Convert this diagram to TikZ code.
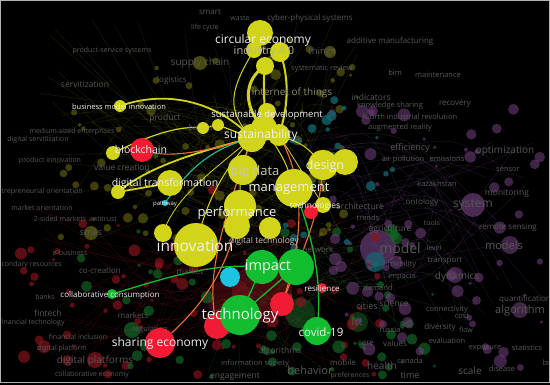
\documentclass[tikz,border=0pt]{standalone}
\usepackage{fontspec}
\setmainfont{Open Sans}
\definecolor{vy}{RGB}{210,212,26}
\definecolor{vg}{RGB}{18,190,48}
\definecolor{vr}{RGB}{240,28,52}
\definecolor{vc}{RGB}{28,196,226}
\definecolor{vo}{RGB}{240,112,50}
\definecolor{vt}{RGB}{24,190,160}
\definecolor{fl}{RGB}{88,88,88}
\definecolor{dy}{RGB}{105,105,20}
\definecolor{dr}{RGB}{140,20,30}
\definecolor{dg}{RGB}{20,105,40}
\definecolor{dp}{RGB}{105,60,118}
\definecolor{dt}{RGB}{20,105,115}
\definecolor{wl}{RGB}{240,240,240}
\pgfdeclarelayer{bgl}
\pgfdeclarelayer{lnk}
\pgfsetlayers{bgl,lnk,main}
\begin{document}
\begin{tikzpicture}[x=1pt,y=-1pt,
  every node/.style={inner sep=0pt,outer sep=0pt},
  dot/.style={circle,minimum size=#1,inner sep=0pt,draw=none},
  lab/.style={text=wl,font=\fontsize{#1}{#1}\selectfont},
  flab/.style={text=fl,font=\fontsize{#1}{#1}\selectfont},
  ylink/.style={draw=vy,line width=#1},
  olink/.style={draw=vo,line width=1.1},
  glink/.style={draw=vg,line width=1.3},
]
\begin{pgfonlayer}{bgl}
\fill[black] (0,0) rectangle (550,385);
\pgfmathsetseed{4242}
\foreach \i in {1,...,90}{
  \pgfmathsetmacro\ax{200+rnd*110}\pgfmathsetmacro\ay{120+rnd*120}
  \pgfmathsetmacro\bx{40+rnd*320}\pgfmathsetmacro\by{20+rnd*220}
  \draw[dy,opacity=0.3,line width=0.4] (\ax,\ay) .. controls (\ax*0.5+\bx*0.5,\ay-30) .. (\bx,\by);
}
\foreach \i in {1,...,90}{
  \pgfmathsetmacro\ax{200+rnd*120}\pgfmathsetmacro\ay{220+rnd*110}
  \pgfmathsetmacro\bx{20+rnd*360}\pgfmathsetmacro\by{200+rnd*185}
  \draw[dr,opacity=0.3,line width=0.4] (\ax,\ay) .. controls (\ax*0.5+\bx*0.5,\ay+20) .. (\bx,\by);
}
\foreach \i in {1,...,50}{
  \pgfmathsetmacro\ax{220+rnd*120}\pgfmathsetmacro\ay{200+rnd*120}
  \pgfmathsetmacro\bx{200+rnd*250}\pgfmathsetmacro\by{220+rnd*160}
  \draw[dg,opacity=0.35,line width=0.4] (\ax,\ay) -- (\bx,\by);
}
\foreach \i in {1,...,50}{
  \pgfmathsetmacro\ax{300+rnd*120}\pgfmathsetmacro\ay{140+rnd*150}
  \pgfmathsetmacro\bx{360+rnd*190}\pgfmathsetmacro\by{140+rnd*200}
  \draw[dp,opacity=0.35,line width=0.4] (\ax,\ay) .. controls (\ax*0.5+\bx*0.5,\ay-15) .. (\bx,\by);
}
\fill[dr,opacity=0.45] (262,292) circle (30pt);
\fill[dr,opacity=0.35] (230,300) circle (22pt);
\fill[dg,opacity=0.5] (300,313) circle (15pt);
\fill[dg,opacity=0.5] (358,322) circle (10pt);
\fill[dp,opacity=0.7] (378,248) circle (18pt);
\fill[dp,opacity=0.7] (473,205) circle (12pt);
\fill[dp,opacity=0.6] (510,245) circle (9pt);
\fill[dp,opacity=0.6] (455,275) circle (8pt);
\fill[dp,opacity=0.6] (520,310) circle (8pt);
\fill[dt,opacity=0.7] (375,262) circle (10pt);
\fill[dy,opacity=0.7] (200,63) circle (7pt);
\fill[dy,opacity=0.7] (330,52) circle (6pt);
\fill[dy,opacity=0.7] (91,233) circle (7pt);
\fill[dr,opacity=0.7] (95,360) circle (8pt);
\fill[dg,opacity=0.7] (132,330) circle (8pt);
\fill[dr,opacity=0.8] (175,180) circle (5pt);
\fill[dr,opacity=0.8] (213,190) circle (5pt);
\foreach \i in {1,...,60}{
  \pgfmathsetmacro\px{120+rnd*240}\pgfmathsetmacro\py{40+rnd*200}\pgfmathsetmacro\pr{1.5+rnd*4}
  \fill[dy,opacity=0.6] (\px,\py) circle (\pr pt);
}
\foreach \i in {1,...,15}{
  \pgfmathsetmacro\px{60+rnd*100}\pgfmathsetmacro\py{110+rnd*130}\pgfmathsetmacro\pr{1.5+rnd*3}
  \fill[dy,opacity=0.6] (\px,\py) circle (\pr pt);
}
\foreach \i in {1,...,70}{
  \pgfmathsetmacro\px{20+rnd*360}\pgfmathsetmacro\py{220+rnd*160}\pgfmathsetmacro\pr{1.5+rnd*5}
  \fill[dr,opacity=0.65] (\px,\py) circle (\pr pt);
}
\foreach \i in {1,...,60}{
  \pgfmathsetmacro\px{80+rnd*360}\pgfmathsetmacro\py{230+rnd*150}\pgfmathsetmacro\pr{1.5+rnd*5}
  \fill[dg,opacity=0.65] (\px,\py) circle (\pr pt);
}
\foreach \i in {1,...,70}{
  \pgfmathsetmacro\px{330+rnd*215}\pgfmathsetmacro\py{100+rnd*270}\pgfmathsetmacro\pr{1.5+rnd*5}
  \fill[dp,opacity=0.6] (\px,\py) circle (\pr pt);
}
\foreach \i in {1,...,25}{
  \pgfmathsetmacro\px{280+rnd*120}\pgfmathsetmacro\py{90+rnd*180}\pgfmathsetmacro\pr{1.5+rnd*4}
  \fill[dt,opacity=0.75] (\px,\py) circle (\pr pt);
}
\end{pgfonlayer}
\useasboundingbox (0,0) rectangle (550,385);
% background labels
\foreach \x/\y/\t/\s [count=\k] in {310/18/cyber-physical systems/8, 210/12/smart/8, 240/18/waste/7, 205/28/life cycle/7, 112/51/product-service systems/7, 200/63/supply chain/10, 172/80/logistics/8, 85/84/servitization/8.5, 390/41/additive manufacturing/8, 322/52/things/9.5, 322/69/systematic review/7.5, 395/73/bim/7.5, 438/75/maintenance/7.5, 371/97/indicators/8.5, 390/106/knowledge sharing/7.5, 455/104/recovery/8, 410/117/fourth industrial revolution/7.5, 400/128/augmented reality/7.5, 165/118/product/8.5, 203/128/barriers/8, 72/132/medium-sized enterprises/7, 38/140/digital servitization/7, 50/161/product innovation/7, 122/167/value creation/8.5, 38/192/entrepreneurial orientation/7, 42/208/market orientation/7, 60/219/2-sided markets/7, 103/219/antitrust/7, 91/233/smes/9, 70/253/e-business/7, 28/265/secondary resources/7, 100/271/co-creation/8, 45/297/banks/7, 48/313/fintech/8.5, 32/323/financial technology/7, 78/337/financial inclusion/7, 62/349/digital platform/7, 95/361/digital platforms/10, 92/375/collaborative economy/7, 133/316/markets/8, 150/330/regulation/7.5, 410/148/efficiency/9, 403/160/air pollution/7.5, 447/159/emissions/7.5, 505/151/optimization/10, 508/169/sensor/7.5, 437/184/kazakhstan/7.5, 507/193/monitoring/8.5, 422/202/ontology/8, 360/206/architecture/8.5, 473/205/system/12, 368/218/trends/7.5, 432/223/tools/7, 390/229/agriculture/8.5, 508/228/remote sensing/8, 400/248/model/14, 504/245/models/11, 434/248/level/7, 318/250/network/8, 445/261/transport/8, 402/265/mobility/7.5, 457/277/dynamics/10, 402/277/impacts/7.5, 378/288/demand/7.5, 525/299/quantification/8, 520/311/algorithm/11, 394/303/science/8.5, 367/306/cities/9, 447/310/connectivity/7.5, 462/316/cost/7.5, 357/322/ict/10, 440/327/diversity/8, 466/330/flow/7, 390/330/russia/7.5, 366/343/care/8, 395/344/values/8, 447/341/evaluation/7.5, 485/348/exposure/7.5, 527/348/statistics/7.5, 280/351/algorithms/8.5, 255/364/information society/7.5, 310/370/behavior/11, 235/377/engagement/8.5, 343/363/mobile/8, 382/366/health/10, 410/361/canada/7.5, 410/375/time/9, 470/371/scale/10, 502/369/disease/7.5, 350/376/preferences/7, 553/363/broad/7.5, 190/272/market/8}
  { \node[flab=\s] (bg\k) at (\x,\y) {\t}; }
\node[text={rgb,255:red,140;green,140;blue,110},font=\fontsize{10}{10}\selectfont] (iot) at (292,93) {internet of things};
% main nodes
\node[dot=12pt,fill=vy] (bmi) at (120,106) {};
\node[dot=14pt,fill=vy] (bc2) at (113,153) {};
\node[dot=14pt,fill=vy] (dt2) at (118,192) {};
\node[dot=12pt,fill=vy] (su4) at (218,125) {};
\node[dot=12pt,fill=vy] (su5) at (203,128) {};
\node[dot=16pt,fill=vy] (ce4) at (254,50) {};
\node[dot=26pt,fill=vy] (ce1) at (260,33) {};
\node[dot=20pt,fill=vy] (ce2) at (280,52) {};
\node[dot=18pt,fill=vy] (ce3) at (265,66) {};
\node[dot=18pt,fill=vy] (sd) at (267,112) {};
\node[dot=28pt,fill=vy] (su1) at (252,138) {};
\node[dot=26pt,fill=vy] (su2) at (264,128) {};
\node[dot=22pt,fill=vy] (su3) at (279,135) {};
\node[dot=30pt,fill=vy] (de1) at (323,165) {};
\node[dot=26pt,fill=vy] (de2) at (345,162) {};
\node[dot=30pt,fill=vy] (bd) at (243,170) {};
\node[dot=38pt,fill=vy] (ma) at (294,188) {};
\node[dot=16pt,fill=vy] (te) at (323,205) {};
\node[dot=14pt,fill=vr] (rr1) at (311,212) {};
\node[dot=32pt,fill=vy] (pe1) at (240,206) {};
\node[dot=26pt,fill=vy] (pe2) at (237,226) {};
\node[dot=22pt,fill=vy] (ye1) at (270,228) {};
\node[dot=44pt,fill=vy] (in) at (196,245) {};
\node[dot=18pt,fill=vy] (ye2) at (163,233) {};
\node[dot=34pt,fill=vg] (im1) at (262,267) {};
\node[dot=36pt,fill=vg] (im2) at (296,267) {};
\node[dot=20pt,fill=vc] (cy) at (230,277) {};
\node[dot=10pt,fill=vr] (res) at (322,288) {};
\node[dot=26pt,fill=vr] (rt1) at (217,326) {};
\node[dot=24pt,fill=vr] (rt2) at (282,304) {};
\node[dot=40pt,fill=vg] (tec) at (240,315) {};
\node[dot=28pt,fill=vg] (cov) at (317,331) {};
\node[dot=30pt,fill=vr] (se) at (160,343) {};
\node[dot=10pt,fill=vg] (cc) at (112,294) {};
\node[dot=26pt,fill=vy] (dt1) at (170,183) {};
\node[dot=24pt,fill=vr] (bc) at (142,150) {};
\node[dot=6pt,fill=vc] (pw) at (165,203) {};
% main links (under the nodes)
\begin{pgfonlayer}{lnk}
\draw[ylink=3] (ce3.center) .. controls (243,80) and (243,108) .. (su2.center);
\draw[ylink=2] (ce3.center) .. controls (262,88) and (266,104) .. (su2.center);
\draw[ylink=2] (ce2.center) .. controls (290,80) and (288,108) .. (su3.center);
\draw[ylink=1] (ce4.center) .. controls (230,90) and (225,110) .. (su1.center);
\draw[ylink=1.8] (bmi.center) .. controls (165,90) and (215,100) .. (su1.center);
\draw[ylink=1.2] (bc2.center) .. controls (150,135) and (180,125) .. (su5.center);
\draw[ylink=1.2] (su5.center) -- (su4.center) -- (su1.center);
\draw[ylink=1.8] (dt2.center) -- (dt1.center);
\draw[ylink=1.8] (dt2.center) .. controls (150,165) and (205,150) .. (su1.center);
\draw[olink] (bc.center) .. controls (170,160) and (210,150) .. (su1.center);
\draw[vt,line width=1.1] (pw.center) .. controls (185,175) and (205,150) .. (su1.center);
\draw[ylink=1] (su1.center) .. controls (215,180) and (205,210) .. (in.center);
\draw[ylink=1] (su1.center) .. controls (240,170) .. (pe1.center);
\draw[ylink=1] (su2.center) .. controls (285,160) .. (ma.center);
\draw[ylink=1] (su3.center) .. controls (305,145) .. (de1.center);
\draw[ylink=0.8] (su3.center) .. controls (300,170) .. (te.center);
\draw[ylink=0.8] (su1.center) .. controls (200,180) and (175,200) .. (ye2.center);
\draw[olink] (su3.center) .. controls (310,190) and (300,250) .. (rt2.center);
\draw[olink] (de1.center) .. controls (320,220) and (300,255) .. (rt2.center);
\draw[olink] (se.center) .. controls (200,310) and (230,270) .. (pe1.center);
\draw[olink] (rt1.center) .. controls (205,280) and (220,230) .. (su1.center);
\draw[glink] (cc.center) .. controls (160,280) and (210,262) .. (im1.center);
\draw[glink] (cov.center) .. controls (320,300) and (322,260) .. (ma.center);
\draw[glink] (tec.center) -- (im2.center);
\draw[glink] (tec.center) -- (im1.center);
\end{pgfonlayer}
% semi-bright labels
\node[text={rgb,255:red,185;green,185;blue,150},font=\fontsize{11}{11}\selectfont] (ind) at (264,52) {industry 4.0};
\node[text={rgb,255:red,200;green,200;blue,180},font=\fontsize{13}{13}\selectfont] (bdl) at (255,172) {big data};
\node[text={rgb,255:red,190;green,190;blue,190},font=\fontsize{8.5}{8.5}\selectfont] (dtl) at (264,241) {digital technology};
% main labels
\node[lab=12] (l1) at (263,40) {circular economy};
\node[lab=9.5] (l2) at (267,115) {sustainable development};
\node[lab=12] (l3) at (261,135) {sustainability};
\node[lab=12.5] (l4) at (325,166) {design};
\node[lab=13] (l5) at (289,189) {management};
\node[lab=8.5] (l6) at (315,206) {technologies};
\node[lab=13] (l7) at (237,213) {performance};
\node[lab=15.5] (l8) at (195,246) {innovation};
\node[lab=14.5] (l9) at (268,267) {impact};
\node[lab=8] (l10) at (322,289) {resilience};
\node[lab=15] (l11) at (240,316) {technology};
\node[lab=11.5] (l12) at (321,332) {covid-19};
\node[lab=12] (l13) at (160,343) {sharing economy};
\node[lab=8] (l14) at (110,295) {collaborative consumption};
\node[lab=10.5] (l15) at (165,184) {digital transformation};
\node[lab=10.5] (l16) at (141,150) {blockchain};
\node[lab=7.5] (l17) at (119,107) {business model innovation};
\node[lab=6] (l18) at (165,204) {pathway};
\draw[gray!60,line width=1.2] (0.6,0.6) rectangle (549.4,382.6);
\end{tikzpicture}
\end{document}
